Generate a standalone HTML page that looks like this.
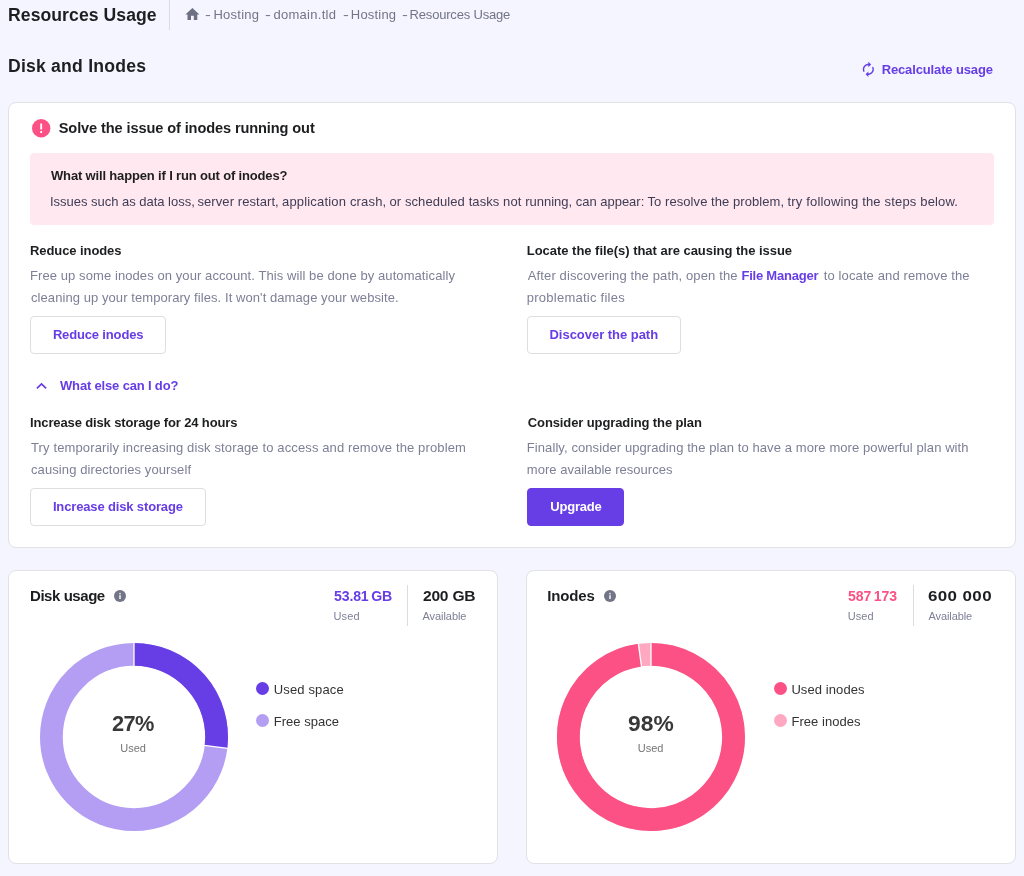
<!DOCTYPE html>
<html lang="en"><head><meta charset="utf-8"><title>Resources Usage</title><style>
*{box-sizing:border-box}
html,body{margin:0;padding:0}
body{width:1024px;height:876px;position:relative;overflow:hidden;background:#f4f5ff;font-family:"Liberation Sans",sans-serif;}
.t{position:absolute;margin:0;line-height:20px;white-space:pre;}
.abs{position:absolute}
.d{display:inline-block;transform:scaleX(1.35);transform-origin:0 50%}
.card{position:absolute;background:#fff;border:1px solid #e2e2e6;border-radius:8px}
.btn{position:absolute;background:#fff;border:1px solid #dedee0;border-radius:4px;height:38px;padding:0;margin:0;font-family:inherit;text-align:left}
.btn.primary{background:#673de6;border-color:#673de6}
.alert{position:absolute;width:964px;height:72px;background:#ffe8ef;border-radius:4px}
svg{position:absolute;overflow:visible}
</style></head><body><header><h1 class="t" style="left:8.00px;top:5.00px;font-size:17.6px;font-weight:700;letter-spacing:0.071px;color:#1d1e20">Resources Usage</h1><i class="abs" style="left:169px;top:0px;width:1px;height:30px;background:#dadce0"></i><nav><svg style="left:183.6px;top:6.2px" width="16.8" height="16.8" viewBox="0 0 24 24"><path fill="#6d7081" d="M10 20v-6h4v6h5v-8h3L12 3 2 12h3v8z"/></svg><span class="t" style="left:205.00px;top:5.00px;font-size:13px;font-weight:400;letter-spacing:0.25px;color:#727586"><span class="d">-</span> Hosting</span><span class="t" style="left:265.00px;top:5.00px;font-size:13px;font-weight:400;letter-spacing:0.273px;color:#727586"><span class="d">-</span> domain.tld</span><span class="t" style="left:342.50px;top:5.00px;font-size:13px;font-weight:400;letter-spacing:0.188px;color:#727586"><span class="d">-</span> Hosting</span><span class="t" style="left:402.00px;top:5.00px;font-size:13px;font-weight:400;letter-spacing:-0.188px;color:#727586"><span class="d">-</span> Resources Usage</span></nav></header><main><h2 class="t" style="left:8.00px;top:56.00px;font-size:17.6px;font-weight:700;letter-spacing:0.214px;color:#1d1e20">Disk and Inodes</h2><a><svg style="left:860.4px;top:61.3px" width="16.7" height="16.7" viewBox="0 0 24 24"><path fill="#673de6" d="M12 6v3l4-4-4-4v3c-4.420 0-8 3.580-8 8 0 1.570.460 3.030 1.240 4.260L6.700 14.800c-.450-.830-.700-1.790-.700-2.800 0-3.310 2.690-6 6-6zm6.760 1.740L17.300 9.200c.440.840.700 1.790.700 2.800 0 3.310-2.690 6-6 6v-3l-4 4 4 4v-3c4.420 0 8-3.580 8-8 0-1.570-.460-3.030-1.240-4.260z"/></svg><span class="t" style="left:881.70px;top:59.75px;font-size:13px;font-weight:700;letter-spacing:-0.138px;color:#673de6">Recalculate usage</span></a><section class="card" style="left:8px;top:102px;width:1008px;height:446px"><svg style="left:23.4px;top:15.75px" width="18.4" height="18.4" viewBox="0 0 18 18"><circle cx="9" cy="9" r="9" fill="#fc5185"/><rect x="8.1" y="4.3" width="1.8" height="6" rx=".3" fill="#fff"/><rect x="8.1" y="11.7" width="1.8" height="1.9" rx=".3" fill="#fff"/></svg><h3 class="t" style="left:49.75px;top:15.00px;font-size:14.6px;font-weight:700;letter-spacing:-0.118px;color:#1d1e20">Solve the issue of inodes running out</h3><div class="alert" style="left:21px;top:50px"><span class="t" style="left:21.00px;top:13.00px;font-size:13px;font-weight:700;letter-spacing:-0.16px;color:#1d1e20">What will happen if I run out of inodes?</span><p style="margin:0"><span class="t" style="left:20.00px;top:39.00px;font-size:13px;font-weight:400;letter-spacing:-0.021px;color:#3f3d56">Issues such as data loss, </span><span class="t" style="left:167.50px;top:39.00px;font-size:13px;font-weight:400;letter-spacing:0.071px;color:#3f3d56">server restart, </span><span class="t" style="left:252.00px;top:39.00px;font-size:13px;font-weight:400;letter-spacing:0.176px;color:#3f3d56">application crash, </span><span class="t" style="left:359.50px;top:39.00px;font-size:13px;font-weight:400;letter-spacing:0.083px;color:#3f3d56">or scheduled tasks not </span><span class="t" style="left:495.25px;top:39.00px;font-size:13px;font-weight:400;letter-spacing:-0.013px;color:#3f3d56">running, can appear: </span><span class="t" style="left:617.50px;top:39.00px;font-size:13px;font-weight:400;letter-spacing:0.068px;color:#3f3d56">To resolve the problem, </span><span class="t" style="left:757.50px;top:39.00px;font-size:13px;font-weight:400;letter-spacing:0.172px;color:#3f3d56">try following the steps below.</span></p></div><div><span class="t" style="left:21.00px;top:138.00px;font-size:13px;font-weight:700;letter-spacing:-0.083px;color:#1d1e20">Reduce inodes</span><span class="t" style="left:21.00px;top:163.00px;font-size:13px;font-weight:400;letter-spacing:0.086px;color:#7d7f96">Free up some inodes on your account. This will be done by automatically</span><span class="t" style="left:22.00px;top:185.00px;font-size:13px;font-weight:400;letter-spacing:0.073px;color:#7d7f96">cleaning up your temporary files. It won&#x27;t damage your website.</span><button class="btn " style="left:21px;top:213px;width:136px"><span class="t" style="left:21.90px;top:8.00px;font-size:13px;font-weight:700;letter-spacing:-0.158px;color:#673de6">Reduce inodes</span></button></div><div><span class="t" style="left:517.80px;top:138.00px;font-size:13px;font-weight:700;letter-spacing:-0.03px;color:#1d1e20">Locate the file(s) that are causing the issue</span><span class="t" style="left:518.80px;top:163.00px;font-size:13px;font-weight:400;letter-spacing:0.127px;color:#7d7f96">After discovering the path, open the</span><span class="t" style="left:732.50px;top:163.00px;font-size:13px;font-weight:700;letter-spacing:-0.227px;color:#673de6">File Manager</span><span class="t" style="left:814.75px;top:163.00px;font-size:13px;font-weight:400;letter-spacing:0.12px;color:#7d7f96">to locate and remove the</span><span class="t" style="left:517.80px;top:185.00px;font-size:13px;font-weight:400;letter-spacing:0.247px;color:#7d7f96">problematic files</span><button class="btn " style="left:518px;top:213px;width:154px"><span class="t" style="left:21.50px;top:8.00px;font-size:13px;font-weight:700;letter-spacing:-0.031px;color:#673de6">Discover the path</span></button></div><a><svg style="left:25px;top:275px" width="16" height="16" viewBox="0 0 16 16"><path d="M2.9 10.4 7.5 5.9 12.1 10.4" fill="none" stroke="#673de6" stroke-width="1.7"/></svg><span class="t" style="left:51.00px;top:273.00px;font-size:13px;font-weight:700;letter-spacing:-0.167px;color:#673de6">What else can I do?</span></a><div><span class="t" style="left:21.00px;top:310.00px;font-size:13px;font-weight:700;letter-spacing:-0.129px;color:#1d1e20">Increase disk storage for 24 hours</span><span class="t" style="left:22.00px;top:335.00px;font-size:13px;font-weight:400;letter-spacing:0.127px;color:#7d7f96">Try temporarily increasing disk storage to access and remove the problem</span><span class="t" style="left:22.00px;top:357.00px;font-size:13px;font-weight:400;letter-spacing:0.093px;color:#7d7f96">causing directories yourself</span><button class="btn " style="left:21px;top:385px;width:176px"><span class="t" style="left:21.90px;top:8.00px;font-size:13px;font-weight:700;letter-spacing:-0.145px;color:#673de6">Increase disk storage</span></button></div><div><span class="t" style="left:518.80px;top:310.00px;font-size:13px;font-weight:700;letter-spacing:-0.108px;color:#1d1e20">Consider upgrading the plan</span><span class="t" style="left:517.80px;top:335.00px;font-size:13px;font-weight:400;letter-spacing:0.084px;color:#7d7f96">Finally, consider upgrading the plan to have a more more powerful plan with</span><span class="t" style="left:517.80px;top:357.00px;font-size:13px;font-weight:400;letter-spacing:0.02px;color:#7d7f96">more available resources</span><button class="btn primary" style="left:518px;top:385px;width:97px"><span class="t" style="left:22.30px;top:8.00px;font-size:13px;font-weight:700;letter-spacing:-0.217px;color:#ffffff">Upgrade</span></button></div></section><section class="card" style="left:8px;top:570px;width:490px;height:294px"><span class="t" style="left:21.00px;top:15.00px;font-size:15px;font-weight:700;letter-spacing:-0.444px;color:#1d1e20">Disk usage</span><svg style="left:105.4px;top:18.7px" width="12" height="12" viewBox="0 0 12 12"><circle cx="6" cy="6" r="6" fill="#727586"/><rect x="5.3" y="5.2" width="1.4" height="3.8" fill="#fff"/><rect x="5.3" y="2.9" width="1.4" height="1.4" fill="#fff"/></svg><span class="t" style="left:324.75px;top:15.00px;font-size:15px;font-weight:700;letter-spacing:-0.16px;color:#673de6;word-spacing:-1.2px;transform:scale(0.94,1);transform-origin:0 15px">53.81 GB</span><span class="t" style="left:324.40px;top:34.70px;font-size:11px;font-weight:400;letter-spacing:0.2px;color:#7d7f96">Used</span><i class="abs" style="left:398px;top:14px;width:1px;height:41px;background:#dadce0"></i><span class="t" style="left:413.50px;top:15.00px;font-size:15px;font-weight:700;letter-spacing:-0.231px;color:#1d1e20;transform:scale(1.04,1);transform-origin:0 15px">200 GB</span><span class="t" style="left:413.50px;top:34.70px;font-size:11px;font-weight:400;letter-spacing:-0.062px;color:#7d7f96">Available</span><svg style="left:25px;top:66.3px" width="200" height="200" viewBox="34 637.3 200 200"><circle cx="134" cy="737.3" r="82.6" fill="none" stroke="#b39ef3" stroke-width="22.8"/><path d="M134.00 654.70A82.6 82.6 0 0 1 216.01 747.16" fill="none" stroke="#673de6" stroke-width="22.8"/><line x1="134.00" y1="666.60" x2="134.00" y2="642.80" stroke="#fff" stroke-width="1.3"/><line x1="204.19" y1="745.74" x2="227.82" y2="748.58" stroke="#fff" stroke-width="1.3"/></svg><span class="t" style="left:102.90px;top:142.00px;font-size:22.8px;font-weight:700;letter-spacing:-0.602px;color:#383838;transform:scale(0.955,1);transform-origin:0 18px">27%</span><span class="t" style="left:111.30px;top:167.00px;font-size:11px;font-weight:400;letter-spacing:-0.033px;color:#757575">Used</span><i class="abs" style="left:247.4px;top:111.3px;width:13px;height:13px;border-radius:50%;background:#673de6"></i><span class="t" style="left:264.70px;top:109.20px;font-size:13px;font-weight:400;letter-spacing:0.156px;color:#333333">Used space</span><i class="abs" style="left:247.4px;top:143px;width:13px;height:13px;border-radius:50%;background:#b39ef3"></i><span class="t" style="left:264.70px;top:141.00px;font-size:13px;font-weight:400;letter-spacing:0.022px;color:#333333">Free space</span></section><section class="card" style="left:526px;top:570px;width:490px;height:294px"><span class="t" style="left:20.25px;top:15.00px;font-size:15px;font-weight:700;letter-spacing:-0.15px;color:#1d1e20">Inodes</span><svg style="left:76.75px;top:18.7px" width="12" height="12" viewBox="0 0 12 12"><circle cx="6" cy="6" r="6" fill="#727586"/><rect x="5.3" y="5.2" width="1.4" height="3.8" fill="#fff"/><rect x="5.3" y="2.9" width="1.4" height="1.4" fill="#fff"/></svg><span class="t" style="left:321.20px;top:15.00px;font-size:15px;font-weight:700;letter-spacing:-0.124px;color:#fc5185;word-spacing:-1.2px;transform:scale(0.94,1);transform-origin:0 15px">587 173</span><span class="t" style="left:320.80px;top:34.70px;font-size:11px;font-weight:400;letter-spacing:0.067px;color:#7d7f96">Used</span><i class="abs" style="left:386px;top:14px;width:1px;height:41px;background:#dadce0"></i><span class="t" style="left:401.40px;top:15.00px;font-size:15px;font-weight:700;letter-spacing:0.339px;color:#1d1e20;transform:scale(1.13,1);transform-origin:0 15px">600 000</span><span class="t" style="left:401.40px;top:34.70px;font-size:11px;font-weight:400;letter-spacing:-0.075px;color:#7d7f96">Available</span><svg style="left:24.2px;top:66.3px" width="200" height="200" viewBox="551.2 637.3 200 200"><circle cx="651.2" cy="737.3" r="82.6" fill="none" stroke="#fea8c2" stroke-width="22.8"/><path d="M651.20 654.70A82.6 82.6 0 1 1 640.14 655.44" fill="none" stroke="#fc5185" stroke-width="22.8"/><line x1="651.20" y1="666.60" x2="651.20" y2="642.80" stroke="#fff" stroke-width="1.3"/><line x1="641.73" y1="667.24" x2="638.54" y2="643.65" stroke="#fff" stroke-width="1.3"/></svg><span class="t" style="left:101.10px;top:142.00px;font-size:22.8px;font-weight:700;letter-spacing:0.0px;color:#383838;transform:scale(1.0,1);transform-origin:0 18px">98%</span><span class="t" style="left:110.80px;top:167.00px;font-size:11px;font-weight:400;letter-spacing:-0.033px;color:#757575">Used</span><i class="abs" style="left:246.9px;top:111.3px;width:13px;height:13px;border-radius:50%;background:#fc5185"></i><span class="t" style="left:264.40px;top:109.20px;font-size:13px;font-weight:400;letter-spacing:0.085px;color:#333333">Used inodes</span><i class="abs" style="left:246.9px;top:143px;width:13px;height:13px;border-radius:50%;background:#fea8c2"></i><span class="t" style="left:264.40px;top:141.00px;font-size:13px;font-weight:400;letter-spacing:0.05px;color:#333333">Free inodes</span></section></main></body></html>
